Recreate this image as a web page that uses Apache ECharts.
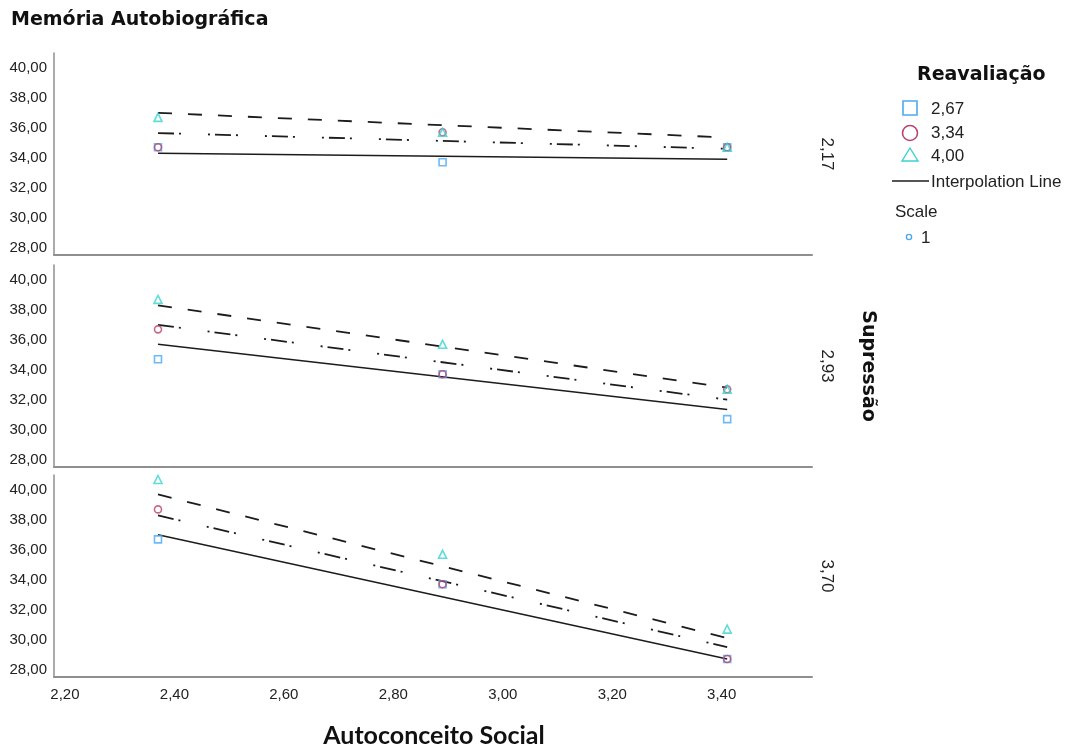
<!DOCTYPE html>
<html>
<head>
<meta charset="utf-8">
<script src="https://cdn.jsdelivr.net/npm/echarts@6/dist/echarts.min.js"></script>
<style>
  html, body { margin: 0; padding: 0; background: #fff; }
  #main { width: 1079px; height: 749px; }
</style>
</head>
<body>
<div id="main"></div>
<script>
// x positions of the three Autoconceito Social points
var xPoints = [2.37, 2.89, 3.41]
var xTicks = [2.2, 2.4, 2.6, 2.8, 3.0, 3.2, 3.4]
var yTicks = [28, 30, 32, 34, 36, 38, 40]

// panels = Supressão levels, groups = Reavaliação levels
var panelLabels = ['2,17', '2,93', '3,70']
var groupNames = ['2,67', '3,34', '4,00']

// means per panel, one array per group (2,67 / 3,34 / 4,00)
var panel1Means = [[34.7, 33.7, 34.7], [34.7, 35.7, 34.7], [36.7, 35.7, 34.7]]
var panel2Means = [[34.7, 33.7, 30.7], [36.7, 33.7, 32.7], [38.7, 35.7, 32.7]]
var panel3Means = [[36.7, 33.7, 28.7], [38.7, 33.7, 28.7], [40.7, 35.7, 30.7]]

// interpolation lines: value at first and last x, per group
var panel1Lines = [[34.3, 33.9], [35.65, 34.6], [37.0, 35.35]]
var panel2Lines = [[35.7, 31.35], [37.0, 32.0], [38.3, 32.8]]
var panel3Lines = [[37.0, 28.7], [38.3, 29.5], [39.7, 30.1]]

var allMeans = [panel1Means, panel2Means, panel3Means]
var allLines = [panel1Lines, panel2Lines, panel3Lines]

var groupColors = ['#4aa9f2', '#b94372', '#38d3d0']
var groupSymbols = ['rect', 'circle', 'triangle']
var lineTypes = ['solid', [16, 5, 2, 27, 2, 5], [14, 16]]

var gridTops = [53, 265, 475]
var axisColor = '#8f8f8f'

function comma(v) {
    return v.toFixed(2).replace('.', ',')
}

var chart = echarts.init(document.getElementById('main'))

var grids = [], xAxes = [], yAxes = [], series = []
for (var p = 0; p < 3; p++) {
    grids.push({ left: 54, width: 758, top: gridTops[p], height: 202 })
    xAxes.push({
        type: 'value', gridIndex: p, min: 2.18, max: 3.565,
        axisLine: { show: true, lineStyle: { color: axisColor, width: 2 } },
        axisTick: { show: false },
        splitLine: { show: false },
        axisLabel: {
            show: p == 2, customValues: xTicks, formatter: comma,
            color: '#222', fontSize: 15, fontFamily: 'Liberation Sans', margin: 10
        }
    })
    yAxes.push({
        type: 'value', gridIndex: p, min: 27.5, max: 41,
        axisLine: { show: true, lineStyle: { color: axisColor, width: 1.5 } },
        axisTick: { show: false },
        splitLine: { show: false },
        axisLabel: {
            customValues: yTicks, formatter: comma,
            color: '#222', fontSize: 15, fontFamily: 'Liberation Sans', margin: 7
        }
    })

    for (var g = 0; g < 3; g++) {
        var pts = xPoints.map(function(x, i) { return [x, allMeans[p][g][i]] })
        var ln = allLines[p][g]
        series.push({
            type: 'line', xAxisIndex: p, yAxisIndex: p, symbol: 'none', silent: true,
            data: [[xPoints[0], ln[0]], [xPoints[2], ln[1]]],
            lineStyle: { color: '#1c1c1c', width: g == 0 ? 1.5 : 1.8, type: lineTypes[g] },
            z: 2
        })
        series.push({
            type: 'scatter', name: groupNames[g], xAxisIndex: p, yAxisIndex: p,
            symbol: groupSymbols[g], symbolSize: g == 2 ? 8 : 7,
            data: pts,
            itemStyle: { color: 'rgba(255,255,255,0)', borderColor: groupColors[g], borderWidth: 1.6 },
            z: 3 + g
        })
    }
}

// legend and side labels drawn as graphic items
var graphics = [
    { type: 'text', left: 11, top: 11, style: { text: 'Memória Autobiográfica', font: 'bold 19px "DejaVu Sans"', fill: '#111' } },
    { type: 'text', x: 434, y: 736, style: { text: 'Autoconceito Social', font: 'bold 25px Lato', fill: '#111', align: 'center', verticalAlign: 'middle' } },
    { type: 'text', x: 868, y: 366, rotation: -Math.PI / 2,
      style: { text: 'Supressão', font: 'bold 19px "DejaVu Sans"', fill: '#111', align: 'center', verticalAlign: 'middle' } },
    { type: 'text', x: 917, y: 75, style: { text: 'Reavaliação', font: 'bold 19px "DejaVu Sans"', fill: '#111', verticalAlign: 'middle' } },
    { type: 'rect', shape: { x: 903, y: 101, width: 14, height: 14 }, style: { fill: 'none', stroke: groupColors[0], lineWidth: 1.6 } },
    { type: 'circle', shape: { cx: 910, cy: 133, r: 7.5 }, style: { fill: 'none', stroke: groupColors[1], lineWidth: 1.6 } },
    { type: 'polygon', shape: { points: [[910, 148], [918, 161], [902, 161]] }, style: { fill: 'none', stroke: groupColors[2], lineWidth: 1.4 } },
    { type: 'line', shape: { x1: 892, y1: 181, x2: 929, y2: 181 }, style: { stroke: '#1c1c1c', lineWidth: 1.5 } },
    { type: 'circle', shape: { cx: 909, cy: 237, r: 2.6 }, style: { fill: 'none', stroke: groupColors[0], lineWidth: 1.4 } }
]
var legendTexts = [[931, 109, groupNames[0]], [931, 133, groupNames[1]], [931, 156, groupNames[2]],
    [931, 182, 'Interpolation Line'], [895, 212, 'Scale'], [921, 238, '1']]
legendTexts.forEach(function(t) {
    graphics.push({ type: 'text', x: t[0], y: t[1],
        style: { text: t[2], font: '17px "Liberation Sans"', fill: '#222', verticalAlign: 'middle' } })
})
panelLabels.forEach(function(lab, i) {
    graphics.push({ type: 'text', x: 827, y: gridTops[i] + 101, rotation: -Math.PI / 2,
        style: { text: lab, font: '17px "Liberation Sans"', fill: '#222', align: 'center', verticalAlign: 'middle' } })
})

chart.setOption({
    animation: false,
    backgroundColor: '#fff',
    grid: grids,
    xAxis: xAxes,
    yAxis: yAxes,
    series: series,
    graphic: graphics
})
</script>
</body>
</html>
